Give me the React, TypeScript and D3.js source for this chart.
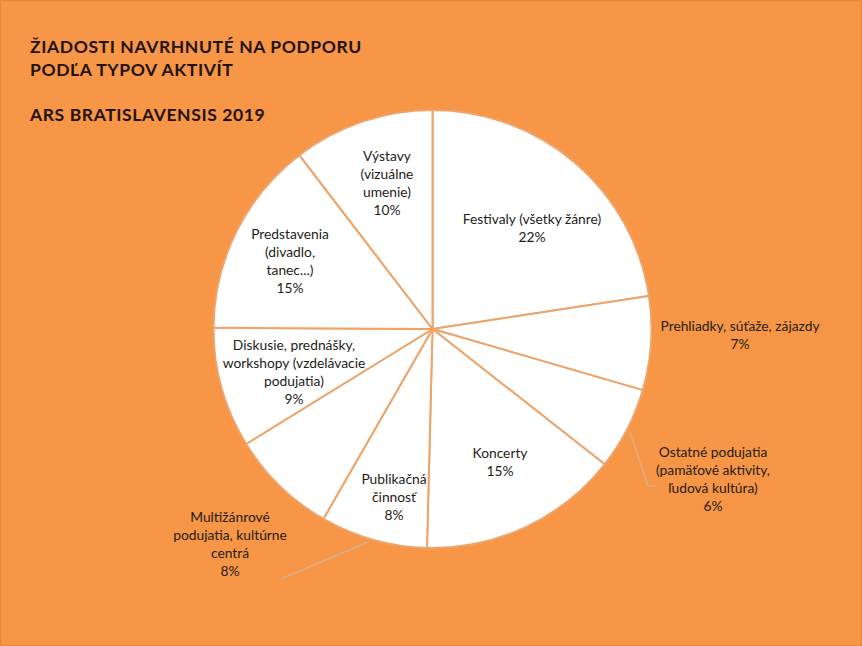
import React from "react";
import * as d3 from "d3";

const categories = [
  ["Festivaly (všetky žánre)"],
  ["Prehliadky, súťaže, zájazdy"],
  ["Ostatné podujatia", "(pamäťové aktivity,", "ľudová kultúra)"],
  ["Koncerty"],
  ["Publikačná", "činnosť"],
  ["Multižánrové", "podujatia, kultúrne", "centrá"],
  ["Diskusie, prednášky,", "workshopy (vzdelávacie", "podujatia)"],
  ["Predstavenia", "(divadlo,", "tanec...)"],
  ["Výstavy", "(vizuálne", "umenie)"],
];
const values = [22.6, 6.9, 6.1, 14.8, 7.9, 7.9, 8.9, 14.5, 10.4];
const percentLabels = ["22%", "7%", "6%", "15%", "8%", "8%", "9%", "15%", "10%"];
const titleLines = ["ŽIADOSTI NAVRHNUTÉ NA PODPORU", "PODĽA TYPOV AKTIVÍT", "", "ARS BRATISLAVENSIS 2019"];

// label anchor positions (center of first line), as [x, y]
const labelPos: [number, number][] = [
  [532, 220],
  [740, 327],
  [713, 453],
  [500, 454],
  [394, 480],
  [230, 518],
  [294, 346],
  [290, 235],
  [387, 157],
];
// leader lines
const leaders: [number, number][][] = [
  [],
  [],
  [[630, 432], [648, 486], [656, 486]],
  [],
  [],
  [[368, 542], [281, 579]],
  [],
  [],
  [],
];

const W = 862;
const H = 646;
const cx = 432.5;
const cy = 329;
const R = 219;

export default function App() {
  const pie = d3.pie<number>().sort(null).value((d) => d)(values);
  const arc = d3.arc<d3.PieArcDatum<number>>().innerRadius(0).outerRadius(R);
  const line = d3.line();
  const lh = 18;
  return (
    <svg
      width={W}
      height={H}
      style={{ position: "absolute", left: 0, top: 0, display: "block" }}
      fontFamily="Lato, 'Liberation Sans', sans-serif"
    >
      <rect x={0.5} y={0.5} width={W - 1} height={H - 1} fill="#F79646" stroke="#E9883A" strokeWidth={1.5} />
      <g fontWeight="bold" fontSize={17.5} fill="#22120a" letterSpacing={0.6}>
        {titleLines.map((t, i) => (
          <text key={i} x={30} y={53 + i * 22.7}>
            {t}
          </text>
        ))}
      </g>
      <g transform={`translate(${cx},${cy})`}>
        {pie.map((p, i) => (
          <path key={i} d={arc(p) || ""} fill="#ffffff" stroke="#EDA46B" strokeWidth={2} strokeLinejoin="round" />
        ))}
      </g>
      {leaders.map((l, i) =>
        l.length ? (
          <path key={i} d={line(l) || ""} fill="none" stroke="#D9AE8C" strokeWidth={1.5} />
        ) : null
      )}
      <g fontSize={13.8} fill="#231c18" textAnchor="middle">
        {categories.map((lines, i) => {
          const [x, y] = labelPos[i];
          const all = [...lines, percentLabels[i]];
          return (
            <text key={i} x={x} y={y} dominantBaseline="middle">
              {all.map((s, j) => (
                <tspan key={j} x={x} y={y + j * lh}>
                  {s}
                </tspan>
              ))}
            </text>
          );
        })}
      </g>
    </svg>
  );
}
